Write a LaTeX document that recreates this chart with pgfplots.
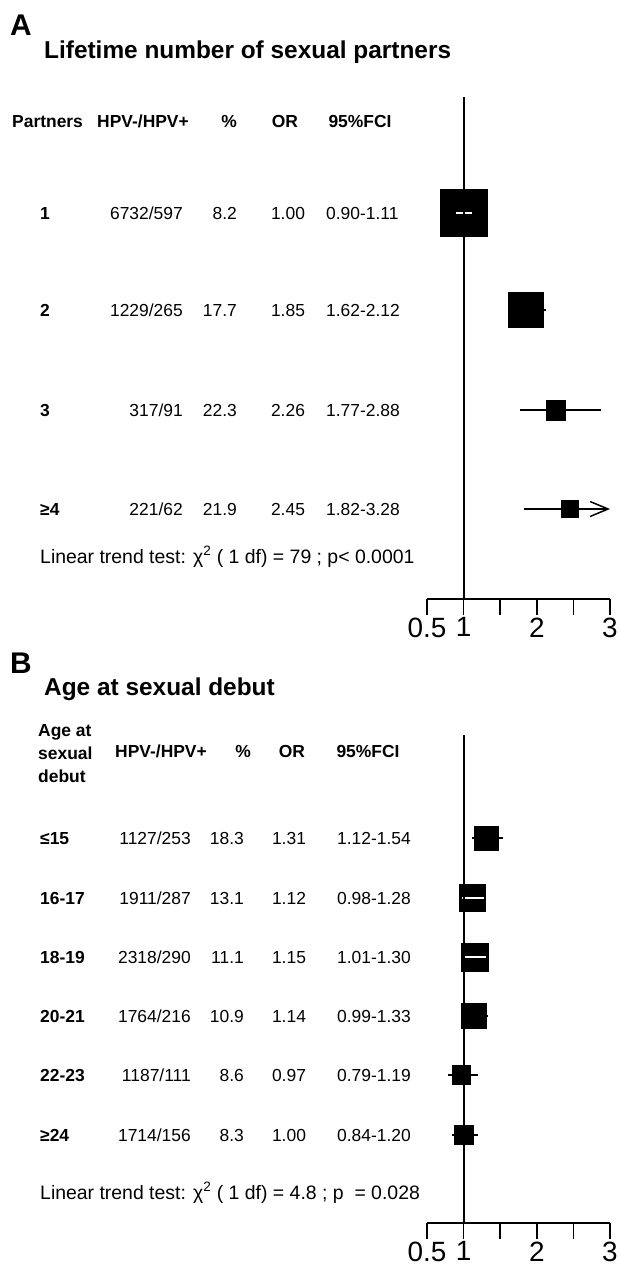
\documentclass[border=0pt]{standalone}
\usepackage{fontspec}
\setmainfont{Liberation Sans}
\usepackage{pgfplots}
\pgfplotsset{compat=1.18}
\usetikzlibrary{arrows.meta}
\newcommand{\fs}[1]{\fontsize{#1}{#1}\selectfont}
\begin{document}
\begin{tikzpicture}[x=1bp,y=1bp]
\useasboundingbox (0bp,0bp) rectangle (620bp,-1269bp);
\tikzset{hd/.style={font=\bfseries\fs{17.5}, inner sep=0pt},
         td/.style={font=\fs{17.5}, inner sep=0pt}}
\pgfplotsset{forest/.style={
  scale only axis, width=183bp, clip=false, clip marker paths=true,
  xmin=0.5, xmax=3,
  axis x line*=bottom, axis y line=none,
  xtick={0.5,1,1.5,2,2.5,3}, xticklabels={0.5,1,,2,,3},
  tick align=outside, major tick length=16bp,
  tick style={black, line width=1.6bp},
  x axis line style={black, line width=1.6bp},
  xticklabel style={font=\fs{28}, inner sep=2.5bp},
  anchor=south west,
  ci/.style={black, line width=1.5bp},
  box/.style={only marks, mark=square*, mark options={fill=black, draw=black, line width=0.5bp}},
}}
% ---------------- Panel A ----------------
\begin{axis}[forest, at={(427bp,-599bp)}, ymin=-599, ymax=-97, height=502bp]
\addplot[ci] coordinates {(0.90,-213) (1.11,-213)};
\addplot[ci] coordinates {(1.62,-310) (2.12,-310)};
\addplot[ci] coordinates {(1.77,-410) (2.88,-410)};
\addplot[ci, -{Straight Barb[length=18bp,width=15bp]}] coordinates {(1.82,-509) (3.00,-509)};
\addplot[box, mark size=23.3bp] coordinates {(1.00,-213)};
\addplot[box, mark size=17.3bp] coordinates {(1.85,-310)};
\addplot[box, mark size=9.8bp] coordinates {(2.26,-410)};
\addplot[box, mark size=8.3bp] coordinates {(2.45,-509)};
\addplot[white, line width=1.5bp] coordinates {(0.90,-213) (1.11,-213)};
\addplot[black, line width=2bp] coordinates {(1,-599) (1,-97)};
\end{axis}
\node[anchor=base west, font=\bfseries\fs{30}, inner sep=0pt] at (10bp,-35bp) {A};
\node[anchor=base west, font=\bfseries\fs{24.5}, inner sep=0pt] at (44bp,-58bp) {Lifetime number of sexual partners};
\node[hd, anchor=base west] at (12bp,-127bp) {Partners};
\node[hd, anchor=base] at (143bp,-127bp) {HPV-/HPV+};
\node[hd, anchor=base] at (229bp,-127bp) {\%};
\node[hd, anchor=base] at (285bp,-127bp) {OR};
\node[hd, anchor=base] at (360bp,-127bp) {95\%FCI};
% rows
\foreach \yy/\lab/\cnt/\pc/\orv/\ci in {219/1/6732\slash 597/8.2/1.00/0.90-1.11, 316/2/1229\slash 265/17.7/1.85/1.62-2.12, 416/3/317\slash 91/22.3/2.26/1.77-2.88, 515/≥4/221\slash 62/21.9/2.45/1.82-3.28}{
  \node[hd, anchor=base west] at (40bp,-\yy bp) {\lab};
  \node[td, anchor=base east] at (183bp,-\yy bp) {\cnt};
  \node[td, anchor=base east] at (237bp,-\yy bp) {\pc};
  \node[td, anchor=base] at (288bp,-\yy bp) {\orv};
  \node[td, anchor=base west] at (326bp,-\yy bp) {\ci};
}
\node[td, font=\fs{19.5}, anchor=base west] at (40bp,-563bp) {Linear trend test: χ\textsuperscript{2} ( 1 df) = 79 ; p< 0.0001};
% ---------------- Panel B ----------------
\begin{axis}[forest, at={(427bp,-1223bp)}, ymin=-1223, ymax=-735, height=488bp]
\addplot[ci] coordinates {(1.12,-838) (1.54,-838)};
\addplot[ci] coordinates {(0.98,-898) (1.28,-898)};
\addplot[ci] coordinates {(1.01,-957) (1.30,-957)};
\addplot[ci] coordinates {(0.99,-1016) (1.33,-1016)};
\addplot[ci] coordinates {(0.79,-1075) (1.19,-1075)};
\addplot[ci] coordinates {(0.84,-1135) (1.20,-1135)};
\addplot[box, mark size=11.8bp] coordinates {(1.31,-838)};
\addplot[box, mark size=13.3bp] coordinates {(1.12,-898)};
\addplot[box, mark size=13.8bp] coordinates {(1.15,-957)};
\addplot[box, mark size=12.3bp] coordinates {(1.14,-1016)};
\addplot[box, mark size=9.3bp] coordinates {(0.97,-1075)};
\addplot[box, mark size=9.5bp] coordinates {(1.00,-1135)};
\addplot[white, line width=1.5bp] coordinates {(0.98,-898) (1.28,-898)};
\addplot[white, line width=1.5bp] coordinates {(1.01,-957) (1.30,-957)};
\addplot[black, line width=2bp] coordinates {(1,-1223) (1,-735)};
\end{axis}
\node[anchor=base west, font=\bfseries\fs{30}, inner sep=0pt] at (10bp,-673bp) {B};
\node[anchor=base west, font=\bfseries\fs{24.5}, inner sep=0pt] at (44bp,-695bp) {Age at sexual debut};
\node[hd, anchor=base west] at (38bp,-736bp) {Age at};
\node[hd, anchor=base west] at (38bp,-759bp) {sexual};
\node[hd, anchor=base west] at (38bp,-782bp) {debut};
\node[hd, anchor=base] at (161bp,-757bp) {HPV-/HPV+};
\node[hd, anchor=base] at (243bp,-757bp) {\%};
\node[hd, anchor=base] at (292bp,-757bp) {OR};
\node[hd, anchor=base] at (368bp,-757bp) {95\%FCI};
\foreach \yy/\lab/\cnt/\pc/\orv/\ci in {844/≤15/1127\slash 253/18.3/1.31/1.12-1.54, 904/16-17/1911\slash 287/13.1/1.12/0.98-1.28, 963/18-19/2318\slash 290/11.1/1.15/1.01-1.30, 1022/20-21/1764\slash 216/10.9/1.14/0.99-1.33, 1081/22-23/1187\slash 111/8.6/0.97/0.79-1.19, 1141/≥24/1714\slash 156/8.3/1.00/0.84-1.20}{
  \node[hd, anchor=base west] at (40bp,-\yy bp) {\lab};
  \node[td, anchor=base east] at (191bp,-\yy bp) {\cnt};
  \node[td, anchor=base east] at (244bp,-\yy bp) {\pc};
  \node[td, anchor=base] at (289bp,-\yy bp) {\orv};
  \node[td, anchor=base west] at (337bp,-\yy bp) {\ci};
}
\node[td, font=\fs{19.5}, anchor=base west] at (40bp,-1199bp) {Linear trend test: χ\textsuperscript{2} ( 1 df) = 4.8 ; p~~= 0.028};
\end{tikzpicture}
\end{document}
